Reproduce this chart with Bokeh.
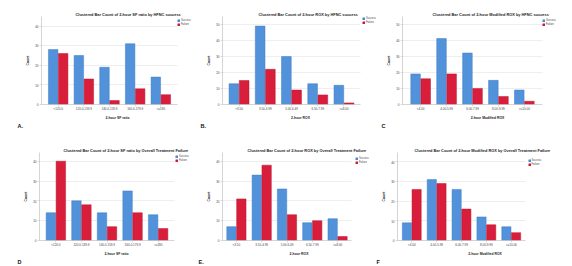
import numpy as np
from bokeh.plotting import figure
from bokeh.models import (ColumnDataSource, Range1d, Legend, LegendItem,
                          Title, SingleIntervalTicker, FixedTicker)
from bokeh.transform import dodge
from bokeh.layouts import row, column
from bokeh.embed import file_html
from bokeh.resources import INLINE

# ---------------- data ----------------
sf_categories = ["<120.0", "120.0-139.9", "140.0-159.9", "160.0-179.9", ">=180"]
rox_categories = ["<3.50", "3.50-4.99", "5.00-6.49", "6.50-7.99", ">=8.00"]
mrox_categories = ["<4.00", "4.00-5.99", "6.00-7.99", "8.00-9.99", ">=10.00"]
series_names = ["Success", "Failure"]

hfnc_sf_success = [28, 25, 19, 31, 14]
hfnc_sf_failure = [26, 13, 2, 8, 5]
hfnc_rox_success = [13, 49, 30, 13, 12]
hfnc_rox_failure = [15, 22, 9, 6, 1]
hfnc_mrox_success = [19, 41, 32, 15, 9]
hfnc_mrox_failure = [16, 19, 10, 5, 2]

overall_sf_success = [14, 20, 14, 25, 13]
overall_sf_failure = [40, 18, 7, 14, 6]
overall_rox_success = [7, 33, 26, 9, 11]
overall_rox_failure = [21, 38, 13, 10, 2]
overall_mrox_success = [9, 31, 26, 12, 7]
overall_mrox_failure = [26, 29, 16, 8, 4]

titles = [
    "Clustered Bar Count of 2-hour SF ratio by HFNC success",
    "Clustered Bar Count of 2-hour ROX by HFNC success",
    "Clustered Bar Count of 2-hour Modified ROX by HFNC success",
    "Clustered Bar Count of 2-hour SF ratio by Overall Treatment Failure",
    "Clustered Bar Count of 2-hour ROX by Overall Treatment Failure",
    "Clustered Bar Count of 2-hour Modified ROX by Overall Treatment Failure",
]
x_labels = ["2-hour SF ratio", "2-hour ROX", "2-hour Modified ROX"]
letters = ["A.", "B.", "C", "D", "E.", "F"]

# ---------------- styling ----------------
FONT = "Liberation Sans"
BLUE = "#5192DA"
BLUE_LINE = "#3F7CC2"
RED = "#D91E3B"
RED_LINE = "#B8182F"

# geometry per panel: W, H, left, plot_w, top, frame_h, ymax, pad, title_off,
#   legend_dx, legend_dy, letter_offset
geoms = [
    (193, 130, 41, 136, 15, 93, 44.9, 0.15, 34, 0, 6.5, -24),
    (185, 130, 29, 138, 15, 94, 55.0, 0.13, 36, 2, 6.0, -22),
    (194, 130, 24, 140, 16, 92, 54.7, 0.20, 30, 0, 6.0, -21),
    (193, 136, 39, 135, 20, 93, 44.4, 0.14, 24, 1, 7.0, -22),
    (182, 136, 29, 129, 20, 92, 44.4, 0.05, 25, 4, 7.5, -24),
    (197, 136, 22, 128, 22, 91, 44.8, 0.074, 17, 2.5, 8.5, -21),
]


def make_panel(i, cats, success, failure, xlabel):
    (W, H, left, pw, top, fh, ymax, pad, title_off, ldx, ldy, let_off) = geoms[i]
    n = len(cats)
    pos = np.arange(n, dtype=float)
    src = ColumnDataSource(dict(pos=pos, success=success, failure=failure))

    fw = W - left                      # frame runs to the right edge (legend inside)
    unit = pw / (n + 2 * pad)          # pixels per category
    x0 = -0.5 - pad
    x_plot_end = n - 0.5 + pad
    x1 = x0 + fw / unit

    p = figure(width=W, height=H, x_range=Range1d(x0, x1), y_range=Range1d(0, ymax),
               output_backend="svg", toolbar_location=None,
               min_border_left=left, min_border_right=0,
               min_border_top=top, min_border_bottom=H - top - fh)
    p.outline_line_color = None
    p.background_fill_color = "white"

    r1 = p.vbar(x=dodge("pos", -0.195), top="success", width=0.37, source=src,
                fill_color=BLUE, line_color=BLUE_LINE, line_width=0.5)
    r2 = p.vbar(x=dodge("pos", 0.195), top="failure", width=0.37, source=src,
                fill_color=RED, line_color=RED_LINE, line_width=0.5)

    # title
    p.title.text = titles[i]
    p.title.text_font = FONT
    p.title.text_font_size = "3.9px"
    p.title.text_font_style = "bold"
    p.title.text_color = "#222222"
    p.title.align = "left"
    p.title.offset = title_off
    p.title.standoff = 0

    # axes
    p.xgrid.grid_line_color = None
    p.ygrid.grid_line_color = "#E3E3E3"
    p.ygrid.grid_line_width = 0.6
    if "cross_bounds" in p.ygrid[0].properties():
        p.ygrid[0].cross_bounds = (x0, x_plot_end)
    p.yaxis.ticker = SingleIntervalTicker(interval=10, num_minor_ticks=0)
    p.xaxis.ticker = FixedTicker(ticks=[int(k) for k in pos])
    p.xaxis.major_label_overrides = {int(k): c for k, c in zip(pos, cats)}
    p.xaxis.bounds = (x0, x_plot_end)
    for ax in (p.xaxis[0], p.yaxis[0]):
        ax.axis_line_color = "#B8B8B8"
        ax.axis_line_width = 0.6
        ax.major_tick_line_color = "#B8B8B8"
        ax.major_tick_line_width = 0.5
        ax.major_tick_out = 2
        ax.major_tick_in = 0
        ax.minor_tick_line_color = None
        ax.major_label_text_font = FONT
        ax.major_label_text_font_size = "3px"
        ax.major_label_text_color = "#444444"
        ax.major_label_standoff = 1
        ax.axis_label_text_font = FONT
        ax.axis_label_text_font_size = "3.4px"
        ax.axis_label_text_font_style = "bold"
        ax.axis_label_text_color = "#222222"
        ax.axis_label_standoff = 2
    p.xaxis.axis_label = xlabel
    p.yaxis.axis_label = "Count"

    # legend, inside the frame just right of the bars' area
    legend_h = 9
    legend = Legend(items=[LegendItem(label=series_names[0], renderers=[r1]),
                           LegendItem(label=series_names[1], renderers=[r2])],
                    location=(pw + ldx, fh - (ldy - 1) - legend_h),
                    label_text_font=FONT, label_text_font_size="2.6px",
                    label_text_color="#444444",
                    glyph_width=3, glyph_height=3, label_height=3, label_width=0,
                    label_standoff=1, spacing=1, padding=1, margin=0,
                    border_line_color=None, background_fill_alpha=0)
    p.add_layout(legend, "center")

    # panel letter, below the x axis, left of the frame
    t = Title(text=letters[i], align="left", offset=let_off, vertical_align="top",
              standoff=0, text_font=FONT, text_font_size="5.5px",
              text_font_style="bold", text_color="#111111")
    p.add_layout(t, "below")
    return p


pa = make_panel(0, sf_categories, hfnc_sf_success, hfnc_sf_failure, x_labels[0])
pb = make_panel(1, rox_categories, hfnc_rox_success, hfnc_rox_failure, x_labels[1])
pc = make_panel(2, mrox_categories, hfnc_mrox_success, hfnc_mrox_failure, x_labels[2])
pd_ = make_panel(3, sf_categories, overall_sf_success, overall_sf_failure, x_labels[0])
pe = make_panel(4, rox_categories, overall_rox_success, overall_rox_failure, x_labels[1])
pf = make_panel(5, mrox_categories, overall_mrox_success, overall_mrox_failure, x_labels[2])

layout = column(row(pa, pb, pc), row(pd_, pe, pf))

with open("out.html", "w") as f:
    f.write(file_html(layout, INLINE))
